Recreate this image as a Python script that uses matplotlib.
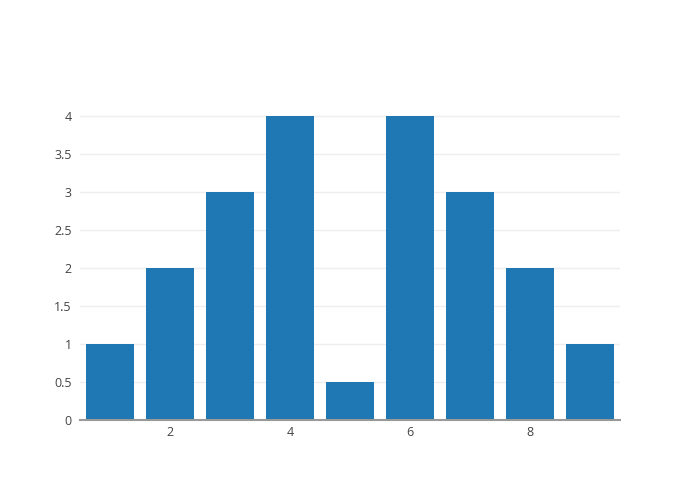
import matplotlib
matplotlib.use("Agg")
import matplotlib.pyplot as plt

x = [1, 2, 3, 4, 5, 6, 7, 8, 9]
y = [1, 2, 3, 4, 0.5, 4, 3, 2, 1]
yticks = [0, 0.5, 1, 1.5, 2, 2.5, 3, 3.5, 4]
ylabels = ["0", "0.5", "1", "1.5", "2", "2.5", "3", "3.5", "4"]
xticks = [2, 4, 6, 8]

plt.rcParams['font.family'] = ['Open Sans', 'DejaVu Sans']
fig = plt.figure(figsize=(7, 5), dpi=100)
ax = fig.add_axes([80/700, 80/500, 540/700, 320/500])
ax.bar(x, y, width=0.8, color='#1f77b4', zorder=2)
ax.set_xlim(0.5, 9.5)
ax.set_ylim(0, 4.21)
ax.set_yticks(yticks)
ax.set_yticklabels(ylabels)
ax.set_xticks(xticks)
for s in ['top', 'right', 'left']:
    ax.spines[s].set_visible(False)
ax.spines['bottom'].set_color('#999999')
ax.spines['bottom'].set_linewidth(1.5)
ax.spines['bottom'].set_zorder(3)
ax.grid(axis='y', color='#eeeeee', linewidth=1, zorder=0)
ax.tick_params(axis='both', length=0, labelsize=9, labelcolor='#444444')
ax.tick_params(axis='y', pad=6)
ax.tick_params(axis='x', pad=4)
fig.savefig('out.png', dpi=100)
